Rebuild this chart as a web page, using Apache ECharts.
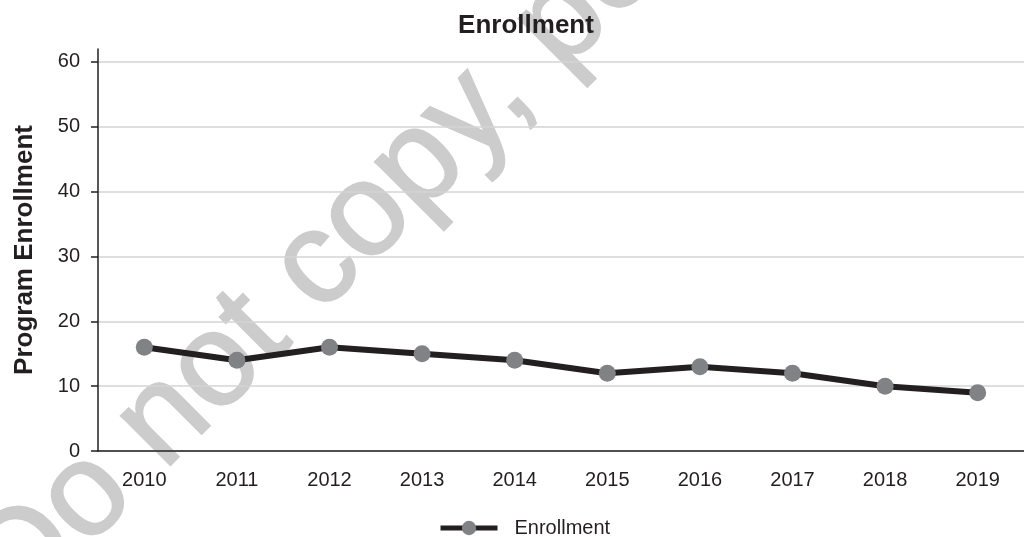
<!DOCTYPE html>
<html>
<head>
<meta charset="utf-8">
<script src="https://cdn.jsdelivr.net/npm/echarts@6/dist/echarts.min.js"></script>
<style>
  html, body { margin: 0; padding: 0; background: #ffffff; }
  #chart { width: 1024px; height: 537px; }
</style>
</head>
<body>
<div id="chart"></div>
<script>
const titleText = 'Enrollment';
const yAxisName = 'Program Enrollment';
const seriesName = 'Enrollment';
const years = ['2010', '2011', '2012', '2013', '2014', '2015', '2016', '2017', '2018', '2019'];
const enrollment = [16, 14, 16, 15, 14, 12, 13, 12, 10, 9];
const yTicks = [0, 10, 20, 30, 40, 50, 60];
const watermarkText = 'Do not copy, post, or distribute';

const FONT = '"Liberation Sans", Arial, Helvetica, sans-serif';
const INK = '#231f20';

const chart = echarts.init(document.getElementById('chart'), null, { renderer: 'canvas' });

chart.setOption({
  backgroundColor: '#ffffff',
  animation: false,
  textStyle: { fontFamily: FONT },
  title: {
    text: titleText,
    left: 526,
    textAlign: 'center',
    top: 13,
    padding: 0,
    textStyle: { fontFamily: FONT, fontSize: 26, fontWeight: 'bold', color: INK }
  },
  legend: {
    data: [seriesName],
    left: 438,
    top: 518,
    padding: 0,
    itemWidth: 57,
    itemHeight: 18,
    lineStyle: { width: 5, color: INK },
    textStyle: { fontFamily: FONT, fontSize: 20, color: INK, padding: [0, 0, 0, 12] }
  },
  grid: { left: 98, right: -14, top: 49, bottom: 86, containLabel: false },
  xAxis: {
    type: 'category',
    data: years,
    boundaryGap: true,
    axisLine: { lineStyle: { color: INK, width: 1.5 } },
    axisTick: { alignWithLabel: true, length: 6, lineStyle: { color: INK, width: 1.5 } },
    axisLabel: { fontFamily: FONT, fontSize: 20, color: INK, margin: 19 },
    splitLine: { show: false }
  },
  yAxis: {
    type: 'value',
    min: 0,
    max: 62,
    interval: 10,
    name: yAxisName,
    nameLocation: 'middle',
    nameGap: 60,
    nameTextStyle: { fontFamily: FONT, fontSize: 26, fontWeight: 'bold', color: INK },
    axisLine: { show: true, lineStyle: { color: INK, width: 1.5 } },
    axisTick: { show: true, length: 7, customValues: yTicks, lineStyle: { color: INK, width: 1.5 } },
    axisLabel: { fontFamily: FONT, fontSize: 20, color: INK, margin: 18, customValues: yTicks },
    splitLine: { show: true, lineStyle: { color: '#d4d4d4', width: 1.5 } }
  },
  graphic: [{
    type: 'text',
    x: -7,
    y: 591,
    rotation: 45 * Math.PI / 180,
    z: -10,
    silent: true,
    style: {
      text: watermarkText,
      fontFamily: FONT,
      fontSize: 132,
      fill: '#cccccc',
      stroke: '#cccccc',
      lineWidth: 2,
      textAlign: 'left',
      textVerticalAlign: 'middle'
    }
  }],
  series: [{
    name: seriesName,
    type: 'line',
    data: enrollment,
    z: 5,
    symbol: 'circle',
    symbolSize: 17,
    lineStyle: { color: INK, width: 6 },
    itemStyle: { color: '#808285', borderWidth: 0 }
  }]
});
</script>
</body>
</html>
